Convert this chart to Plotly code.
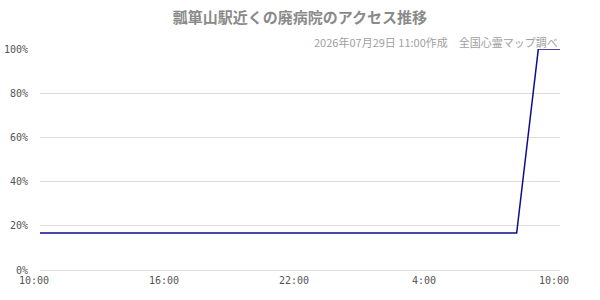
import plotly.graph_objects as go
from datetime import datetime, timedelta

start = datetime(2026, 7, 28, 10, 0)
times = [start + timedelta(hours=h) for h in range(25)]
values = [16.7] * 23 + [100, 100]

x_tick_vals = [start + timedelta(hours=h) for h in (0, 6, 12, 18, 24)]
x_tick_text = ["10:00", "16:00", "22:00", "4:00", "10:00"]
y_tick_vals = [0, 20, 40, 60, 80, 100]
y_tick_text = ["0%", "20%", "40%", "60%", "80%", "100%"]

title = "瓢箪山駅近くの廃病院のアクセス推移"
subtitle = "2026年07月29日 11:00作成　全国心霊マップ調べ"

# left-align y labels in a monospace font by padding with transparent digits
pad = "<span style='color:rgba(0,0,0,0)'>{}</span>"
y_text_padded = [(pad.format("0" * (4 - len(t))) if len(t) < 4 else "") + t
                 for t in y_tick_text]

fig = go.Figure()
fig.add_trace(go.Scatter(x=times, y=values, mode="lines",
                         line=dict(color="#0c0c8e", width=1.5),
                         hoverinfo="skip", cliponaxis=False))

fig.update_layout(
    width=600, height=300,
    margin=dict(l=40, r=40, t=49, b=30),
    paper_bgcolor="white", plot_bgcolor="white",
    showlegend=False,
    title=dict(text=title, x=0.5, xanchor="center", y=0.94, yanchor="middle",
               font=dict(family="Noto Sans CJK JP", size=15, color="#8a8a8a", weight="bold")),
    annotations=[dict(text=subtitle, xref="paper", yref="paper", x=1, y=1,
                      xanchor="right", yanchor="bottom", yshift=-3, showarrow=False,
                      font=dict(family="Noto Sans CJK JP", size=11, color="#a0a0a0"))],
)
fig.update_xaxes(range=[times[0], times[-1]], tickvals=x_tick_vals, ticktext=x_tick_text,
                 automargin=False,
                 showgrid=False, zeroline=False, showline=False, ticks="",
                 ticklabelshift=-6, ticklabelstandoff=3,
                 tickfont=dict(family="DejaVu Sans Mono", size=10, color="#555"))
fig.update_yaxes(range=[0, 100], tickvals=y_tick_vals, ticktext=y_text_padded,
                 automargin=False,
                 showgrid=True, gridcolor="#dcdcdc", gridwidth=1,
                 zeroline=True, zerolinecolor="#dcdcdc", zerolinewidth=1,
                 showline=False, ticks="", ticklabelstandoff=11,
                 tickfont=dict(family="DejaVu Sans Mono", size=10, color="#555"))

fig.write_html("out.html")
